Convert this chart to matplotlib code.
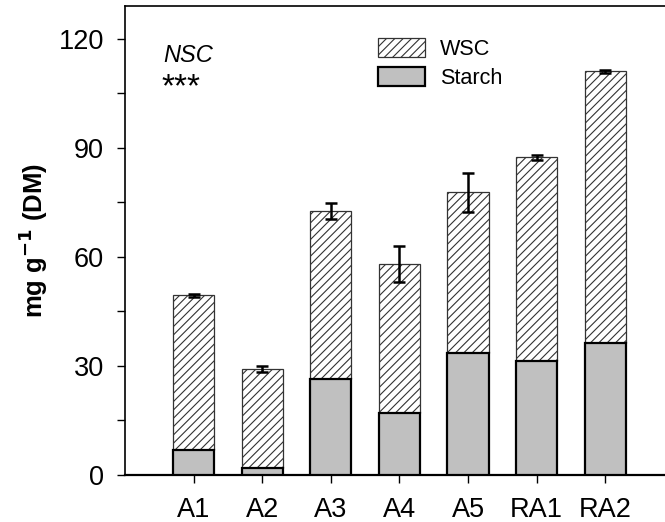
import matplotlib
matplotlib.use("Agg")
import matplotlib.pyplot as plt
from matplotlib.ticker import MultipleLocator
import numpy as np

plt.rcParams['font.family'] = ['Liberation Sans', 'DejaVu Sans']
plt.rcParams['hatch.linewidth'] = 0.8

# Non-structural carbohydrates by treatment (mg g-1 DM)
treatments = ["A1", "A2", "A3", "A4", "A5", "RA1", "RA2"]
starch = [6.9, 1.8, 26.5, 17.0, 33.5, 31.3, 36.4]
nsc_total = [49.4, 29.2, 72.6, 58.1, 77.8, 87.4, 111.0]
nsc_err = [0.4, 0.9, 2.2, 5.0, 5.4, 0.7, 0.3]
wsc = [t - s for t, s in zip(nsc_total, starch)]

fig = plt.figure(figsize=(6.65, 5.22), dpi=100)
ax = fig.add_axes([125 / 665, 47 / 522, 540 / 665, 469 / 522])

x = np.arange(1, len(treatments) + 1)
width = 0.6

ax.bar(x, starch, width, color="#c0c0c0", edgecolor="black", linewidth=1.6,
       label="Starch", zorder=3)
ax.bar(x, wsc, width, bottom=starch, color="white", edgecolor="#333333",
       linewidth=0.9, hatch="////", label="WSC", zorder=2)
ax.errorbar(x, nsc_total, yerr=nsc_err, fmt="none", ecolor="black",
            elinewidth=1.8, capsize=4.5, capthick=1.8, zorder=4)

ax.set_xlim(0, 7.87)
ax.set_ylim(0, 129)
ax.set_xticks(x)
ax.set_xticklabels(treatments)
ax.yaxis.set_major_locator(MultipleLocator(30))
ax.yaxis.set_minor_locator(MultipleLocator(15))
ax.tick_params(axis="both", which="major", direction="out", length=6,
               width=1, labelsize=19.5)
ax.tick_params(axis="y", which="major", pad=9)
ax.tick_params(axis="x", which="major", pad=10)
ax.tick_params(axis="y", which="minor", direction="out", length=6, width=1)
ax.spines["right"].set_visible(False)
for side in ("left", "bottom", "top"):
    ax.spines[side].set_linewidth(1.2)
ax.spines["bottom"].set_linewidth(1.6)

ax.set_ylabel(r"mg g$^{\mathbf{-1}}$ (DM)", fontsize=18.5, fontweight="bold",
              labelpad=6)

ax.text(0.07, 0.895, "NSC", transform=ax.transAxes, fontsize=17,
        fontstyle="italic", va="center", ha="left")
ax.text(0.068, 0.825, "***", transform=ax.transAxes, fontsize=24,
        va="center", ha="left")

handles, labels = ax.get_legend_handles_labels()
ax.legend(handles[::-1], labels[::-1], loc="upper left",
          bbox_to_anchor=(0.468, 0.932), frameon=False, fontsize=15.6,
          handlelength=2.17, handleheight=1.0, handletextpad=0.7,
          labelspacing=0.32, borderaxespad=0, borderpad=0)

fig.savefig("out.png", dpi=100)
